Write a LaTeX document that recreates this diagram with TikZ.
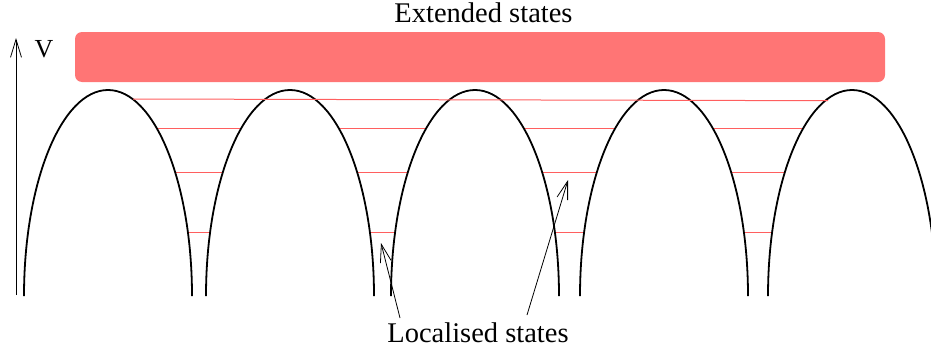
\documentclass[tikz,border=0pt]{standalone}
\usepackage{fontspec}
\setmainfont{Liberation Serif}
\newfontfamily\tmsfont{Liberation Serif}
\usetikzlibrary{arrows.meta}
\definecolor{bandred}{RGB}{255,117,117}
\definecolor{levelred}{RGB}{255,95,95}
\tikzset{
  arch/.style={draw=black, line width=1.8pt, fill=white},
  level/.style={draw=levelred, line width=1pt},
  pointer/.style={draw=black, line width=0.8pt, -{Straight Barb[length=18pt,width=11pt,line width=0.8pt]}},
  bigtext/.style={font=\tmsfont\fontsize{28.5}{30}\selectfont, inner sep=0pt, anchor=base},
}
\begin{document}
\begin{tikzpicture}[x=1pt,y=-1pt]
\useasboundingbox (0,0) rectangle (931,351);
\clip (0,0) rectangle (931,351);
% extended band
\node[bigtext] (ext) at (483.5,22.7) {Extended states};
\fill[bandred, rounded corners=7pt] (75,32) rectangle (885,82);
% lower levels (hidden inside the barriers by their white fill)
\foreach \a/\b in {108/290, 290/475, 475/664, 664/852}{
  \draw[level] (\a,128) -- (\b,128);
  \draw[level] (\a,172) -- (\b,172);
  \draw[level] (\a,232.5) -- (\b,232.5);
}
% barriers
\foreach \c in {108,290,475,664,852}{
  \draw[arch] ({\c-84},296) arc[start angle=180, end angle=0, x radius=84pt, y radius=206pt];
}
% top level line
\coordinate (t1) at (133,99);
\coordinate (t2) at (828,100.7);
\draw[level] (t1) -- (t2);
% axis
\coordinate (ax0) at (16,295);
\coordinate (ax1) at (16,38);
\draw[pointer] (ax0) -- (ax1);
\node[font=\tmsfont\fontsize{26}{28}\selectfont, inner sep=0pt, anchor=base] (V) at (44,57) {V};
% localised states
\node[bigtext] (loc) at (478,342.3) {Localised states};
\coordinate (p1s) at (400,318);
\coordinate (p1e) at (381,243);
\coordinate (p2s) at (527,315);
\coordinate (p2e) at (568,180);
\draw[pointer] (p1s) -- (p1e);
\draw[pointer] (p2s) -- (p2e);
\end{tikzpicture}
\end{document}
